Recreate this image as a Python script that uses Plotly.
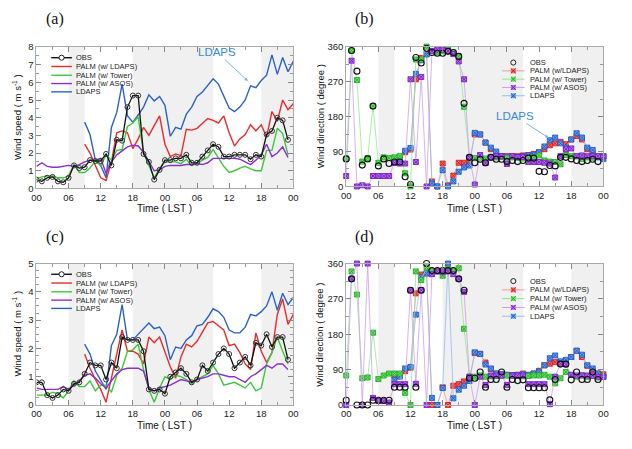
import plotly.graph_objects as go

# ---------------- data ----------------
HOURS = list(range(49))  # 00 LST day 1 .. 00 LST day 3
X_TICKS = [0, 6, 12, 18, 24, 30, 36, 42, 48]
X_TICK_TEXT = ["00", "06", "12", "18", "00", "06", "12", "18", "00"]
NIGHT_BANDS = [(6, 9), (18, 33), (42, 48)]

# (a) wind speed
OBS_A = [0.5, 0.4, 0.6, 0.65, 0.4, 0.35, 0.6, 1.3, 1.15, 1.2, 1.6, 1.55, 1.55, 1.95, 1.3, 2.75, 2.7, 4.6, 5.25, 5.25, 1.95, 1.5, 0.5, 1.05,
         1.6, 1.6, 1.7, 1.7, 1.9, 1.45, 1.45, 1.8, 2.15, 2.5, 2.35, 1.8, 1.8, 1.9, 1.9, 1.9, 1.65, 1.9, 1.8, 3.05, 3.25, 4.0, 3.85, 2.75]
PALM_LDAPS_A = [2.5, 2.0, 1.3, 0.6, 0.45, 1.5, 3.15, 3.25, 3.15, 2.25, 2.8, 3.45, 3.0, 3.55, 4.1,
                2.5, 1.8, 1.95, 1.85, 3.35, 3.3, 3.4, 3.65, 3.95, 3.85, 3.7, 4.1, 3.15, 2.4, 2.8, 3.05, 3.6, 3.25, 3.6, 2.9, 4.35, 3.8, 5.0, 4.45, 4.8]
PALM_TOWER_A = [0.55, 0.65, 0.7, 0.7, 0.6, 0.6, 0.7, 1.35, 0.9, 0.9, 1.15, 1.55, 1.3, 1.9, 1.6, 2.15, 2.2, 3.5, 3.7, 4.05, 2.0, 1.3, 0.6, 1.15,
                1.5, 1.5, 1.5, 1.4, 1.65, 1.3, 1.4, 1.6, 1.75, 2.2, 1.7, 1.25, 0.9, 1.0, 1.15, 1.25, 1.1, 1.0, 1.0, 2.15, 2.15, 3.4, 3.1, 1.9]
PALM_ASOS_A = [1.25, 1.45, 1.25, 1.2, 1.2, 1.25, 1.3, 1.25, 1.35, 1.5, 1.6, 1.6, 1.7, 0.85, 1.5, 1.9, 2.15, 2.35, 2.45, 2.4, 2.05, 1.55, 1.0, 1.05,
               1.25, 1.3, 1.3, 1.3, 1.35, 1.35, 1.4, 1.35, 1.45, 1.7, 1.7, 1.7, 1.7, 1.7, 1.65, 1.5, 1.35, 1.6, 1.9, 2.5, 1.8, 2.0, 2.35, 1.75]
LDAPS_A = [3.75, 3.05, 1.6, 1.3, 0.6, 3.45, 4.3, 5.9, 4.1, 3.75, 4.15, 4.6, 5.3, 4.95, 5.2,
           4.7, 2.95, 3.45, 3.35, 4.2, 4.6, 5.2, 5.45, 5.8, 6.2, 5.9, 5.2, 4.55, 4.35, 4.6, 5.0, 5.8, 5.7, 6.1, 6.4, 7.55, 6.45, 7.4, 6.6, 7.2]

# (c) wind speed
OBS_C = [0.8, 0.8, 0.35, 0.25, 0.35, 0.55, 0.5, 0.75, 0.8, 1.1, 1.5, 1.4, 1.4, 0.9, 1.5, 1.3, 2.4, 2.3, 2.3, 2.3, 1.9, 0.55, 0.5, 0.55,
         0.4, 1.0, 1.15, 1.3, 1.1, 0.8, 0.9, 1.4, 1.2, 1.5, 1.8, 2.0, 1.8, 1.3, 1.5, 1.7, 1.4, 2.2, 2.1, 2.5, 2.05, 2.4, 2.4, 1.6]
PALM_LDAPS_C = [1.8, 1.3, 0.9, 0.55, 0.1, 0.95, 1.7, 2.65, 1.9, 1.9, 1.8, 1.45, 2.4, 2.2, 2.4,
                1.9, 1.35, 0.95, 1.7, 2.15, 2.05, 2.25, 2.6, 2.9, 2.95, 2.8, 2.65, 2.1, 2.15, 1.85, 1.45, 1.25, 2.55, 1.9, 1.5, 1.85, 3.2, 3.75, 2.85, 3.2]
PALM_TOWER_C = [0.35, 0.35, 0.35, 0.45, 0.4, 0.25, 0.5, 0.85, 0.65, 0.65, 0.85, 0.5, 0.7, 0.7, 0.45, 1.05, 1.3, 1.9, 1.95, 2.15, 1.25, 0.55, 0.1, 0.6,
                1.0, 0.9, 1.05, 1.0, 0.9, 0.75, 0.9, 1.0, 1.1, 1.4, 1.1, 0.7, 0.75, 0.8, 0.7, 0.6, 0.8, 0.5, 0.6, 1.45, 1.85, 2.4, 1.9, 1.45]
PALM_ASOS_C = [0.6, 0.55, 0.55, 0.55, 0.55, 0.65, 0.55, 0.7, 0.85, 1.05, 1.1, 0.95, 0.75, 0.6, 0.85, 1.1, 1.25, 1.3, 1.3, 1.3, 1.2, 0.6, 0.5, 0.6,
               0.65, 0.7, 0.8, 0.9, 0.85, 0.8, 0.9, 0.95, 1.0, 1.1, 1.1, 1.05, 1.0, 1.0, 0.9, 0.8, 1.0, 1.1, 1.25, 1.4, 1.3, 1.45, 1.45, 1.25]
LDAPS_C = [2.15, 1.8, 1.2, 0.85, 0.55, 2.1, 2.5, 3.55, 2.3, 2.3, 2.5, 2.7, 2.9, 2.7, 2.75,
           2.45, 1.6, 2.05, 2.0, 2.3, 2.45, 2.8, 2.85, 3.1, 3.4, 3.3, 3.1, 2.65, 2.55, 2.55, 2.75, 3.2, 3.15, 3.3, 3.5, 4.0, 3.35, 3.95, 3.55, 3.8]

# (b) wind direction
OBS_B = [71, 350, 297, 55, 71, 207, 53, 71, 59, 63, 63, 25, 5, 332, 318, 356, 345, 343, 343, 348, 345, 335, 214, 75,
         61, 70, 61, 75, 70, 70, 64, 67, 64, 67, 73, 73, 39, 38, 54, 53, 75, 75, 71, 67, 64, 67, 70, 64]
PALM_TOWER_B = [72, 350, 274, 64, 73, 207, 61, 75, 73, 75, 78, 34, 0, 327, 327, 360, 349, 345, 348, 353, 345, 335, 205, 73,
                73, 74, 72, 75, 75, 76, 74, 75, 74, 72, 73, 75, 80, 67, 64, 63, 57, 81, 78, 78, 71, 75, 74, 78, 78]
PALM_ASOS_B = [27, 324, 0, 3, 0, 27, 27, 27, 27, 61, 59, 59, 276, 63, 282, 0, 349, 353, 352, 349, 341, 322, 276, 75,
               5, 81, 60, 75, 78, 78, 58, 78, 76, 76, 63, 63, 63, 61, 59, 23, 78, 96, 98, 78, 80, 78, 78, 78, 77]
PALM_LDAPS_B = [63, 70, 88, 95, 276, 331, 341, 13, 0, 59, 3, 28, 61, 61, 65,
                134, 134, 113, 96, 84, 78, 78, 78, 78, 80, 81, 84, 88, 96, 106, 111, 115, 109, 121, 130, 121, 96, 86, 78, 78]
LDAPS_B = [63, 71, 92, 99, 290, 325, 340, 8, 0, 42, 0, 13, 38, 49, 54,
           138, 134, 113, 100, 90, 78, 76, 76, 75, 78, 80, 82, 88, 103, 119, 126, 111, 100, 121, 137, 126, 100, 94, 75, 71]

# (d) wind direction
OBS_D = [12, 321, 0, 0, 0, 12, 12, 12, 12, 45, 45, 45, 292, 45, 292, 360, 342, 342, 342, 342, 342, 321, 292, 68,
         68, 84, 45, 65, 65, 84, 45, 65, 62, 64, 44, 44, 44, 44, 13, 65, 104, 104, 64, 84, 65, 65, 84, 65]
PALM_TOWER_D = [75, 340, 281, 68, 70, 184, 66, 75, 80, 80, 80, 31, 0, 340, 318, 350, 340, 340, 329, 346, 340, 348, 194, 72,
                72, 75, 72, 73, 74, 74, 75, 74, 74, 73, 74, 75, 75, 77, 72, 55, 68, 84, 76, 72, 76, 72, 74, 70, 74]
PALM_ASOS_D = [0, 321, 360, 0, 360, 18, 10, 10, 6, 53, 53, 53, 292, 54, 292, 0, 333, 340, 338, 340, 333, 321, 288, 72,
               0, 72, 51, 75, 75, 75, 51, 75, 75, 75, 53, 53, 53, 53, 2, 72, 105, 103, 77, 75, 75, 75, 75, 72, 72]
PALM_LDAPS_D = [75, 76, 86, 95, 284, 332, 335, 0, 0, 45, 0, 49, 53, 60, 68,
                132, 130, 108, 91, 80, 78, 76, 76, 77, 80, 75, 80, 87, 101, 105, 109, 109, 111, 122, 138, 122, 100, 87, 80, 78]
LDAPS_D = [64, 72, 93, 97, 230, 325, 335, 18, 0, 43, 360, 17, 39, 49, 61,
           134, 130, 103, 93, 80, 78, 77, 76, 76, 78, 77, 80, 85, 101, 119, 126, 111, 115, 122, 138, 128, 101, 93, 80, 72]

SERIES_NAMES = ["OBS", "PALM (w/ LDAPS)", "PALM (w/ Tower)", "PALM (w/ ASOS)", "LDAPS"]

# ---------------- styling ----------------
W, H = 632, 449
FONT = "Liberation Sans, Arial, sans-serif"
C_RED, C_GREEN, C_PURPLE, C_BLUE = "#ec2a2a", "#3cc83c", "#8a2fd0", "#2b62c6"
# direction-panel colours: (line, marker fill, marker outline)
D_RED = ("#f39a9a", "#f46a6a", "#d81e1e")
D_GREEN = ("#95e495", "#6ee06e", "#22b022")
D_PURPLE = ("#c9a0ea", "#b070e8", "#7a1ec8")
D_BLUE = ("#98bde9", "#6aa0e8", "#1e5cc8")


def px(x):
    return x / W


def py(y):
    return 1 - y / H


DOM = {
    "a": ([px(32), px(293)], [py(187), py(42)]),
    "b": ([px(346.7), px(608)], [py(185), py(41.7)]),
    "c": ([px(32), px(293)], [py(409), py(264)]),
    "d": ([px(346.7), px(608)], [py(409), py(264)]),
}
AX = {"a": ("x", "y"), "b": ("x2", "y2"), "c": ("x3", "y3"), "d": ("x4", "y4")}

fig = go.Figure()


def speed_panel(key, obs, pl, pt, pa, ld):
    xa, ya = AX[key]
    fig.add_trace(go.Scatter(x=HOURS[9:], y=ld, mode="lines", line=dict(color=C_BLUE, width=1.4),
                             xaxis=xa, yaxis=ya, showlegend=False, name=SERIES_NAMES[4]))
    fig.add_trace(go.Scatter(x=HOURS[9:], y=pl, mode="lines", line=dict(color=C_RED, width=1.4),
                             xaxis=xa, yaxis=ya, showlegend=False, name=SERIES_NAMES[1]))
    fig.add_trace(go.Scatter(x=HOURS[:48], y=pt, mode="lines", line=dict(color=C_GREEN, width=1.4),
                             xaxis=xa, yaxis=ya, showlegend=False, name=SERIES_NAMES[2]))
    fig.add_trace(go.Scatter(x=HOURS[:48], y=pa, mode="lines", line=dict(color=C_PURPLE, width=1.4),
                             xaxis=xa, yaxis=ya, showlegend=False, name=SERIES_NAMES[3]))
    fig.add_trace(go.Scatter(x=HOURS[:48], y=obs, mode="lines+markers", line=dict(color="#111", width=1.3),
                             marker=dict(symbol="circle-open", size=5, color="#333", line=dict(width=1)),
                             xaxis=xa, yaxis=ya, showlegend=False, name=SERIES_NAMES[0]))


def dir_panel(key, obs, pl, pt, pa, ld):
    xa, ya = AX[key]
    for xs, ys, c, nm in [(HOURS[9:], pl, D_RED, SERIES_NAMES[1]), (HOURS[9:], ld, D_BLUE, SERIES_NAMES[4]),
                          (HOURS, pt, D_GREEN, SERIES_NAMES[2]), (HOURS, pa, D_PURPLE, SERIES_NAMES[3])]:
        fig.add_trace(go.Scatter(x=xs, y=ys, mode="lines+markers", line=dict(color=c[0], width=0.8),
                                 marker=dict(symbol="square-x", size=5, color=c[1], line=dict(color=c[2], width=0.9)),
                                 cliponaxis=False, xaxis=xa, yaxis=ya, showlegend=False, name=nm))
    fig.add_trace(go.Scatter(x=HOURS[:48], y=obs, mode="markers",
                             marker=dict(symbol="circle-open", size=6, color="#111", line=dict(width=1.1)),
                             cliponaxis=False, xaxis=xa, yaxis=ya, showlegend=False, name=SERIES_NAMES[0]))


speed_panel("a", OBS_A, PALM_LDAPS_A, PALM_TOWER_A, PALM_ASOS_A, LDAPS_A)
dir_panel("b", OBS_B, PALM_LDAPS_B, PALM_TOWER_B, PALM_ASOS_B, LDAPS_B)
speed_panel("c", OBS_C, PALM_LDAPS_C, PALM_TOWER_C, PALM_ASOS_C, LDAPS_C)
dir_panel("d", OBS_D, PALM_LDAPS_D, PALM_TOWER_D, PALM_ASOS_D, LDAPS_D)

layout = dict(width=W, height=H, margin=dict(l=0, r=0, t=0, b=0), paper_bgcolor="white",
              plot_bgcolor="white", showlegend=False, font=dict(family=FONT, size=9, color="#222"))

yranges = {"a": ([0, 8], 1, 0.5), "b": ([0, 360], 90, 45), "c": ([0, 5], 1, 0.25), "d": ([0, 360], 90, 45)}
for key, (xd, yd) in DOM.items():
    xa, ya = AX[key]
    xname = "xaxis" + xa[1:]
    yname = "yaxis" + ya[1:]
    rng, dt, mdt = yranges[key]
    layout[xname] = dict(domain=xd, anchor=ya, range=[0, 48], tickmode="array", tickvals=X_TICKS,
                         ticktext=X_TICK_TEXT, ticks="inside", ticklen=5, tickcolor="#888",
                         showline=True, linecolor="#aaa", linewidth=1, mirror="ticks", showgrid=False,
                         zeroline=False, tickfont=dict(size=9.5, color="#222"),
                         minor=dict(tickmode="linear", tick0=0, dtick=3, ticks="inside", ticklen=3, tickcolor="#999"))
    layout[yname] = dict(domain=yd, anchor=xa, range=rng, dtick=dt, tick0=0, ticks="inside", ticklen=5,
                         tickcolor="#888", showline=True, linecolor="#aaa", linewidth=1, mirror="ticks",
                         showgrid=False, zeroline=False, tickfont=dict(size=9.5, color="#222"),
                         minor=dict(dtick=mdt, tick0=0, ticks="inside", ticklen=3, tickcolor="#999"))

shapes = []
for key in DOM:
    xa, ya = AX[key]
    for x0, x1 in NIGHT_BANDS:
        shapes.append(dict(type="rect", xref=xa, yref=ya + " domain", x0=x0, x1=x1, y0=0, y1=1,
                           fillcolor="#f0f0f0", line=dict(width=0), layer="below"))

annotations = []

# panel labels
for lab, x, y in [("(a)", 51, 13), ("(b)", 365, 13), ("(c)", 51, 237), ("(d)", 365, 237)]:
    annotations.append(dict(text=lab, x=px(x), y=py(y), xref="paper", yref="paper", showarrow=False,
                            font=dict(family="Liberation Serif, Times New Roman, serif", size=16, color="#111"),
                            xanchor="center", yanchor="middle"))

# axis titles
for x, y in [(162, 208), (477, 208), (162, 430), (477, 430)]:
    annotations.append(dict(text="Time ( LST )", x=px(x), y=py(y), xref="paper", yref="paper", showarrow=False,
                            font=dict(size=10, color="#111"), xanchor="center", yanchor="middle"))
for x, y, t in [(12, 114, "Wind speed ( m s<sup>-1</sup> )"), (320, 113, "Wind direction ( degree )"),
                (12, 336, "Wind speed ( m s<sup>-1</sup> )"), (320, 337, "Wind direction ( degree )")]:
    annotations.append(dict(text=t, x=px(x), y=py(y), xref="paper", yref="paper", showarrow=False, textangle=-90,
                            font=dict(size=9.5, color="#111"), xanchor="center", yanchor="middle"))

# LDAPS callouts: text placed at an offset from the arrow head
for xa, ya, hx, hy, ax_, ay_ in [("x", "y", 39.5, 6.07, -31, -29),
                                 ("x2", "y2", 37.8, 125.0, -34, -22)]:
    annotations.append(dict(text="LDAPS", x=hx, y=hy, xref=xa, yref=ya, showarrow=True, ax=ax_, ay=ay_,
                            arrowhead=2, arrowsize=0.7, arrowwidth=1, arrowcolor="#7fb0dc", standoff=0,
                            font=dict(size=11.5, color="#3a8ad2")))


# manual compact legends
def legend_block(rows, xl0, xl1, xm, xt, kinds):
    for (name, kind, c), y in zip(kinds, rows):
        if kind in ("line", "line_circle", "line_sq"):
            lc = c if kind != "line_sq" else c[0]
            shapes.append(dict(type="line", xref="paper", yref="paper", x0=px(xl0), x1=px(xl1), y0=py(y), y1=py(y),
                               line=dict(color=lc, width=1.4 if kind != "line_sq" else 1)))
        if kind in ("line_circle", "circle"):
            shapes.append(dict(type="circle", xref="paper", yref="paper", x0=px(xm - 2.6), x1=px(xm + 2.6),
                               y0=py(y + 2.6), y1=py(y - 2.6), line=dict(color="#222", width=1),
                               fillcolor="white" if kind == "line_circle" else "rgba(0,0,0,0)"))
        if kind == "line_sq":
            shapes.append(dict(type="rect", xref="paper", yref="paper", x0=px(xm - 2.5), x1=px(xm + 2.5),
                               y0=py(y + 2.5), y1=py(y - 2.5), line=dict(width=0), fillcolor=c[1]))
            for s in (1, -1):
                shapes.append(dict(type="line", xref="paper", yref="paper", x0=px(xm - 2.5), x1=px(xm + 2.5),
                                   y0=py(y + 2.5 * s), y1=py(y - 2.5 * s), line=dict(color=c[2], width=1)))
        annotations.append(dict(text=name, x=px(xt), y=py(y), xref="paper", yref="paper", showarrow=False,
                                xanchor="left", yanchor="middle", font=dict(size=7.5, color="#222")))


speed_kinds = [(SERIES_NAMES[0], "line_circle", "#111"), (SERIES_NAMES[1], "line", C_RED),
               (SERIES_NAMES[2], "line", C_GREEN), (SERIES_NAMES[3], "line", C_PURPLE), (SERIES_NAMES[4], "line", C_BLUE)]
dir_kinds = [(SERIES_NAMES[0], "circle", "#111"), ("PALM (w/LDAPS)", "line_sq", D_RED),
             (SERIES_NAMES[2], "line_sq", D_GREEN), (SERIES_NAMES[3], "line_sq", D_PURPLE), (SERIES_NAMES[4], "line_sq", D_BLUE)]
legend_block([53, 62, 71, 79.5, 88], 47, 68, 57.5, 70, speed_kinds)
legend_block([275, 284, 293, 301.5, 310], 47, 68, 57.5, 70, speed_kinds)
legend_block([58, 66.5, 75, 83.5, 92], 505, 528, 516.5, 531, dir_kinds)
legend_block([282, 291, 300, 309, 318], 505, 528, 516.5, 531, dir_kinds)

layout["shapes"] = shapes
layout["annotations"] = annotations
fig.update_layout(**layout)
fig.write_html("out.html", config={"displayModeBar": False},
               post_script="document.body.style.margin='0';document.body.style.padding='0';"
                           "document.documentElement.style.overflow='hidden';")
